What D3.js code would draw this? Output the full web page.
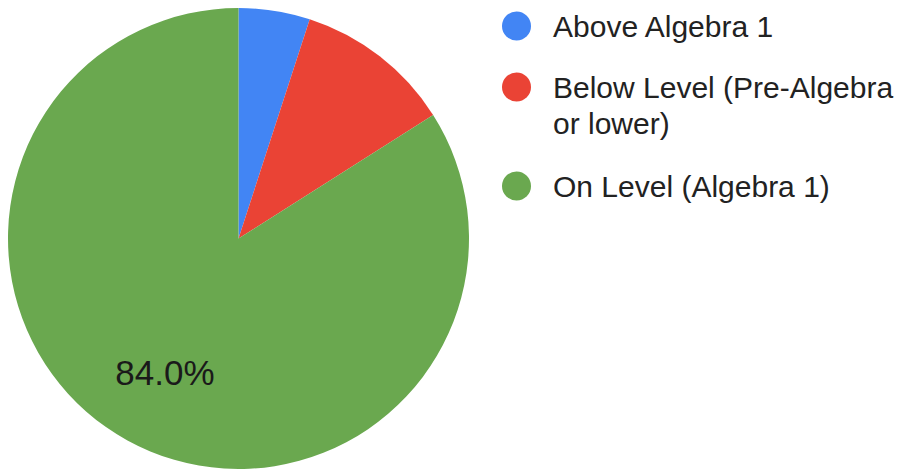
<!DOCTYPE html>
<html>
<head>
<meta charset="utf-8">
<script src="https://cdn.jsdelivr.net/npm/d3@7"></script>
<style>
  html, body { margin: 0; padding: 0; background: #fff; }
  svg { display: block; }
  text { font-family: "Liberation Sans", Arial, sans-serif; }
</style>
</head>
<body>
<svg id="chart" width="904" height="470"></svg>
<script>
// Placement levels (percent of students)
const categories = ["Above Algebra 1", "Below Level (Pre-Algebra or lower)", "On Level (Algebra 1)"];
const values = [5.0, 11.0, 84.0];
const colors = ["#4285f4", "#ea4335", "#6aa84f"];
// Legend entries as wrapped lines
const legendLines = [["Above Algebra 1"], ["Below Level (Pre-Algebra", "or lower)"], ["On Level (Algebra 1)"]];

const svg = d3.select("#chart");
const cx = 238.5, cy = 238.5, r = 230.5;

const data = categories.map((c, i) => ({ name: c, value: values[i], color: colors[i] }));

const pie = d3.pie().value(d => d.value).sort(null);
const arc = d3.arc().innerRadius(0).outerRadius(r);
const labelArc = d3.arc().innerRadius(r * 0.663).outerRadius(r * 0.663);

const g = svg.append("g").attr("transform", `translate(${cx},${cy})`);
const arcs = pie(data);

g.selectAll("path.slice")
  .data(arcs)
  .join("path")
  .attr("class", "slice")
  .attr("d", arc)
  .attr("fill", d => d.data.color);

// Percent labels only on slices large enough to hold them
const total = d3.sum(values);
const labelSize = 35;
g.selectAll("text.pct")
  .data(arcs.filter(d => (d.endAngle - d.startAngle) > 1.5))
  .join("text")
  .attr("class", "pct")
  .attr("x", d => labelArc.centroid(d)[0])
  .attr("y", d => labelArc.centroid(d)[1])
  .attr("dy", "0.358em")
  .attr("text-anchor", "middle")
  .attr("font-size", labelSize)
  .attr("fill", "#1a1a1a")
  .text(d => (d.data.value / total * 100).toFixed(1) + "%");

// Legend
const legendX = 516.5, textX = 553;
const rowY = [26, 87, 186];
const fontSize = 30, lineH = 36;
const legend = svg.append("g");
const rows = legend.selectAll("g.row")
  .data(data)
  .join("g")
  .attr("class", "row")
  .attr("transform", (d, i) => `translate(0,${rowY[i]})`);

rows.append("circle")
  .attr("cx", legendX)
  .attr("cy", 0)
  .attr("r", 14.5)
  .attr("fill", d => d.color);

rows.append("text")
  .attr("x", textX)
  .attr("y", 10.5)
  .attr("font-size", fontSize)
  .attr("fill", "#222")
  .each(function(d, i) {
    d3.select(this).selectAll("tspan")
      .data(legendLines[i])
      .join("tspan")
      .attr("x", textX)
      .attr("dy", (t, j) => j === 0 ? 0 : lineH)
      .text(t => t);
  });
</script>
</body>
</html>
